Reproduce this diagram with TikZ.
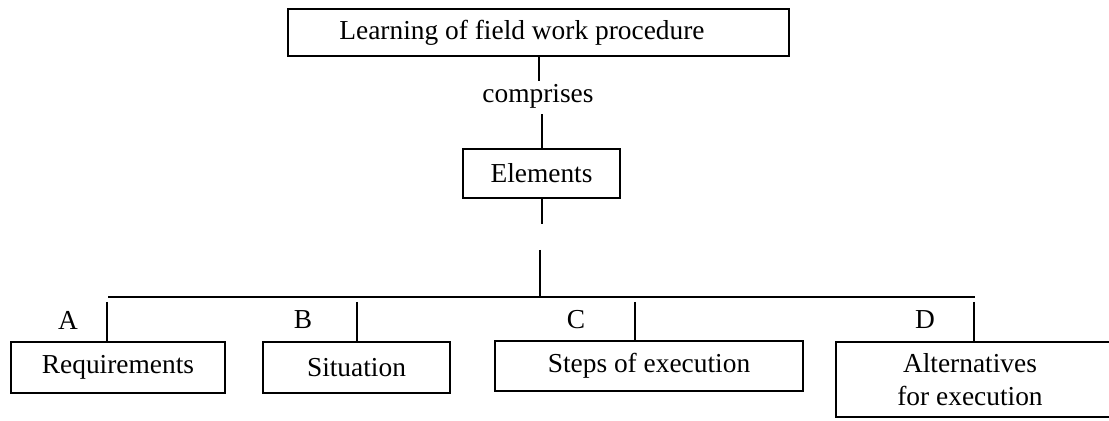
\documentclass[tikz,border=0pt]{standalone}
\usepackage{fontspec}
\setmainfont{Liberation Serif}
\begin{document}
\begin{tikzpicture}[x=0.5pt,y=-0.5pt,
  line/.style={line width=1pt},
  box/.style={draw,line width=1pt,inner sep=0pt,font=\fontsize{13.7}{16.5}\selectfont},
  txt/.style={inner sep=0pt,font=\fontsize{13.7}{16.5}\selectfont,align=center}]
\useasboundingbox (0,0) rectangle (1109,421);
\clip (0,0) rectangle (1109,421);

% headline box and its label
\node[box,minimum width=250.5pt,minimum height=23.5pt] (top) at (538.5,32.5) {};
\node[txt] (toplbl) at (522,33) {Learning of field work procedure};

% relation label and the Elements box
\node[txt] (comp) at (538,96) {comprises};
\node[box,minimum width=78.5pt,minimum height=24.5pt] (elem) at (541.5,173.5) {Elements};

\draw[line] (top.south) -- ++(0,24);
\draw[line] (elem.north) -- ++(0,-34);
\draw[line] (elem.south) -- ++(0,25);

% branching bus
\coordinate (hub) at (540,250);
\coordinate (busL) at (108,297);
\coordinate (busR) at (975,297);
\draw[line] (hub) -- (hub |- busL);
\draw[line] (busL) -- (busR);

% element boxes
\node[box,minimum width=107pt,minimum height=25.5pt] (req) at (118,367.5) {Requirements};
\node[box,minimum width=93.5pt,minimum height=25.5pt] (sit) at (356.5,367.5) {Situation};
\node[box,minimum width=154pt,minimum height=25pt] (steps) at (649,366) {Steps of execution};
\node[box,minimum width=142pt,minimum height=37.5pt] (alt) at (978,379.5) {};
\node[txt] (altlbl) at (970,380) {Alternatives\\for execution};

% drops with their letters
\coordinate (dA) at (107,302);
\coordinate (dB) at (357,302);
\coordinate (dC) at (635,302);
\coordinate (dD) at (974,302);
\draw[line] (dA) -- (dA |- req.north);
\draw[line] (dB) -- (dB |- sit.north);
\draw[line] (dC) -- (dC |- steps.north);
\draw[line] (dD) -- (dD |- alt.north);

\node[txt] (lA) at (68,320) {A};
\node[txt] (lB) at (303,320) {B};
\node[txt] (lC) at (576,320) {C};
\node[txt] (lD) at (925,320) {D};
\end{tikzpicture}
\end{document}
